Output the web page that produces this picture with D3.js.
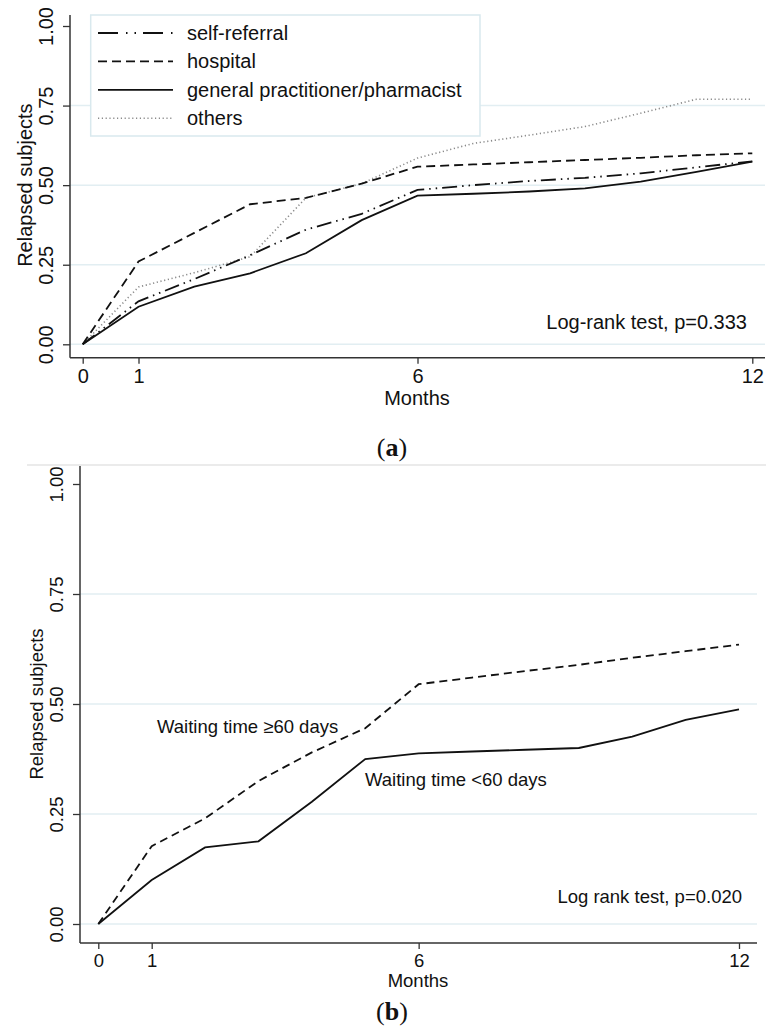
<!DOCTYPE html>
<html>
<head>
<meta charset="utf-8">
<script src="https://cdn.jsdelivr.net/npm/d3@7"></script>
<style>
  body { margin: 0; background: #fff; }
  svg text { font-family: "Liberation Sans", Arial, sans-serif; fill: #111; }
</style>
</head>
<body>
<div id="chart"></div>
<script>
// ------------------------------------------------------------------
// Data (cumulative share of relapsed subjects)
// ------------------------------------------------------------------
var months = [0, 1, 2, 3, 4, 5, 6, 7, 8, 9, 10, 11, 12];
var xTicks = [0, 1, 6, 12];
var yTicks = [0, 0.25, 0.5, 0.75, 1];
var gridTicks = [0, 0.25, 0.5, 0.75];

// panel (a): referral source
var selfReferral = [0, 0.135, 0.205, 0.28, 0.36, 0.41, 0.485, 0.50, 0.513, 0.523, 0.537, 0.556, 0.575];
var hospital = [0, 0.26, 0.35, 0.44, 0.46, 0.505, 0.558, 0.565, 0.572, 0.579, 0.586, 0.594, 0.60];
var generalPractitioner = [0, 0.118, 0.181, 0.223, 0.286, 0.39, 0.467, 0.473, 0.48, 0.49, 0.511, 0.542, 0.574];
var others = [0, 0.18, 0.225, 0.275, 0.46, 0.505, 0.585, 0.631, 0.657, 0.684, 0.726, 0.77, 0.77];
var legendLabels = ["self-referral", "hospital", "general practitioner/pharmacist", "others"];

// panel (b): waiting time
var waitingLong = [0, 0.177, 0.24, 0.325, 0.39, 0.445, 0.545, 0.56, 0.575, 0.589, 0.605, 0.62, 0.635];
var waitingShort = [0, 0.10, 0.174, 0.188, 0.278, 0.375, 0.388, 0.392, 0.396, 0.40, 0.426, 0.464, 0.488];

var W = 766, H = 1027;
var gridColor = "#e2eef2";
var axisColor = "#333";

var svg = d3.select("#chart").append("svg").attr("width", W).attr("height", H);

// ------------------------------------------------------------------
// One survival-style panel
// ------------------------------------------------------------------
function drawPanel(p) {
    var x = d3.scaleLinear().domain([0, 12]).range([p.x0, p.x12]);
    var y = d3.scaleLinear().domain([0, 1]).range([p.y0, p.y1]);
    var g = svg.append("g");
    var fs = p.fs;

    // gridlines
    g.selectAll("line.grid").data(gridTicks).enter().append("line")
        .attr("x1", p.axisX).attr("x2", p.right)
        .attr("y1", function(d) { return y(d); })
        .attr("y2", function(d) { return y(d); })
        .attr("stroke", gridColor).attr("stroke-width", 1.5);

    // y axis
    var ya = g.append("g").attr("transform", "translate(" + p.axisX + ",0)")
        .call(d3.axisLeft(y).tickValues(yTicks).tickSize(7).tickFormat(d3.format(".2f")));
    ya.select(".domain").remove();
    ya.selectAll(".tick line").attr("stroke", axisColor).attr("stroke-width", 1.3);
    ya.selectAll(".tick text")
        .attr("transform", "rotate(-90)")
        .attr("x", 0).attr("y", -17).attr("dy", 0)
        .attr("text-anchor", "middle")
        .style("font-size", fs).style("font-family", "Liberation Sans, Arial, sans-serif").attr("fill", "#111");
    g.append("line").attr("x1", p.axisX).attr("x2", p.axisX)
        .attr("y1", p.axisTop).attr("y2", p.axisY)
        .attr("stroke", axisColor).attr("stroke-width", 1.5);

    // x axis
    var xa = g.append("g").attr("transform", "translate(0," + p.axisY + ")")
        .call(d3.axisBottom(x).tickValues(xTicks).tickSize(6).tickFormat(d3.format("d")));
    xa.select(".domain").remove();
    xa.selectAll(".tick line").attr("stroke", axisColor).attr("stroke-width", 1.3);
    xa.selectAll(".tick text").attr("y", p.tickDy).attr("dy", 0)
        .style("font-size", fs).style("font-family", "Liberation Sans, Arial, sans-serif").attr("fill", "#111");
    g.append("line").attr("x1", p.axisX).attr("x2", p.right)
        .attr("y1", p.axisY).attr("y2", p.axisY)
        .attr("stroke", axisColor).attr("stroke-width", 1.5);

    // axis titles
    g.append("text")
        .attr("transform", "translate(" + p.titleX + "," + ((p.y0 + p.y1) / 2) + ") rotate(-90)")
        .attr("text-anchor", "middle").style("font-size", fs)
        .text("Relapsed subjects");
    g.append("text").attr("x", p.monthsX).attr("y", p.monthsY)
        .attr("text-anchor", "middle").style("font-size", fs)
        .text("Months");

    // curves
    var line = d3.line()
        .x(function(d, i) { return x(months[i]); })
        .y(function(d) { return y(d); });
    p.series.forEach(function(s) {
        g.append("path").datum(s.values)
            .attr("d", line)
            .attr("fill", "none")
            .attr("stroke", s.color)
            .attr("stroke-width", s.width)
            .attr("stroke-dasharray", s.dash);
    });

    // test annotation
    g.append("text").attr("x", p.testX).attr("y", p.testY)
        .attr("text-anchor", "end").style("font-size", fs)
        .text(p.testText);

    // panel label
    var lab = svg.append("text").attr("x", 392).attr("y", p.labelY)
        .attr("text-anchor", "middle")
        .style("font-family", "Liberation Serif, 'DejaVu Serif', serif")
        .style("font-size", "26px");
    lab.append("tspan").text("(");
    lab.append("tspan").attr("font-weight", "bold").text(p.label);
    lab.append("tspan").text(")");

    return { x: x, y: y, g: g };
}

// ------------------------------------------------------------------
// Panel (a)
// ------------------------------------------------------------------
var seriesA = [
    { values: others, color: "#8a8a8a", width: 1.6, dash: "1.2,2.6" },
    { values: selfReferral, color: "#111", width: 1.8, dash: "15,5,1.5,5,1.5,5" },
    { values: hospital, color: "#111", width: 1.8, dash: "9,5" },
    { values: generalPractitioner, color: "#111", width: 1.8, dash: null }
];
var pa = drawPanel({
    x0: 82.7, x12: 752.3, y0: 344.3, y1: 26,
    axisX: 70, axisY: 357.7, axisTop: 15, right: 765,
    tickDy: 25, titleX: 32, monthsX: 417, monthsY: 405, fs: "20px",
    series: seriesA,
    testText: "Log-rank test, p=0.333", testX: 747, testY: 329,
    label: "a", labelY: 456
});

// legend
var legend = svg.append("g");
legend.append("rect").attr("x", 90.7).attr("y", 15).attr("width", 389.3).attr("height", 121)
    .attr("fill", "#fff").attr("stroke", "#d9e9ee").attr("stroke-width", 1.5);
var legendStyles = [seriesA[1], seriesA[2], seriesA[3], seriesA[0]];
var rowY = d3.scalePoint().domain(legendLabels).range([33, 118.3]);
legendLabels.forEach(function(name, i) {
    var s = legendStyles[i];
    legend.append("line")
        .attr("x1", 98).attr("x2", 173)
        .attr("y1", rowY(name)).attr("y2", rowY(name))
        .attr("stroke", s.color).attr("stroke-width", s.width)
        .attr("stroke-dasharray", i === 0 ? "20,8,1.5,7,1.5,7" : s.dash);
    legend.append("text").attr("x", 187).attr("y", rowY(name) + 7)
        .style("font-size", "20px").text(name);
});

// ------------------------------------------------------------------
// Panel (b)
// ------------------------------------------------------------------
svg.append("line").attr("x1", 27).attr("x2", W).attr("y1", 465).attr("y2", 465)
    .attr("stroke", "#e4e4e4").attr("stroke-width", 1.5);

var pb = drawPanel({
    x0: 98.3, x12: 739, y0: 924, y1: 484,
    axisX: 80, axisY: 943, axisTop: 466, right: 757,
    tickDy: 24, titleX: 43, monthsX: 418, monthsY: 987, fs: "18.5px",
    series: [
        { values: waitingLong, color: "#111", width: 1.8, dash: "8,5" },
        { values: waitingShort, color: "#111", width: 1.8, dash: null }
    ],
    testText: "Log rank test, p=0.020", testX: 742, testY: 903,
    label: "b", labelY: 1020
});

pb.g.append("text").attr("x", 157).attr("y", 733).style("font-size", "18.5px")
    .text("Waiting time \u226560 days");
pb.g.append("text").attr("x", 365).attr("y", 786).style("font-size", "18.5px")
    .text("Waiting time <60 days");
</script>
</body>
</html>
